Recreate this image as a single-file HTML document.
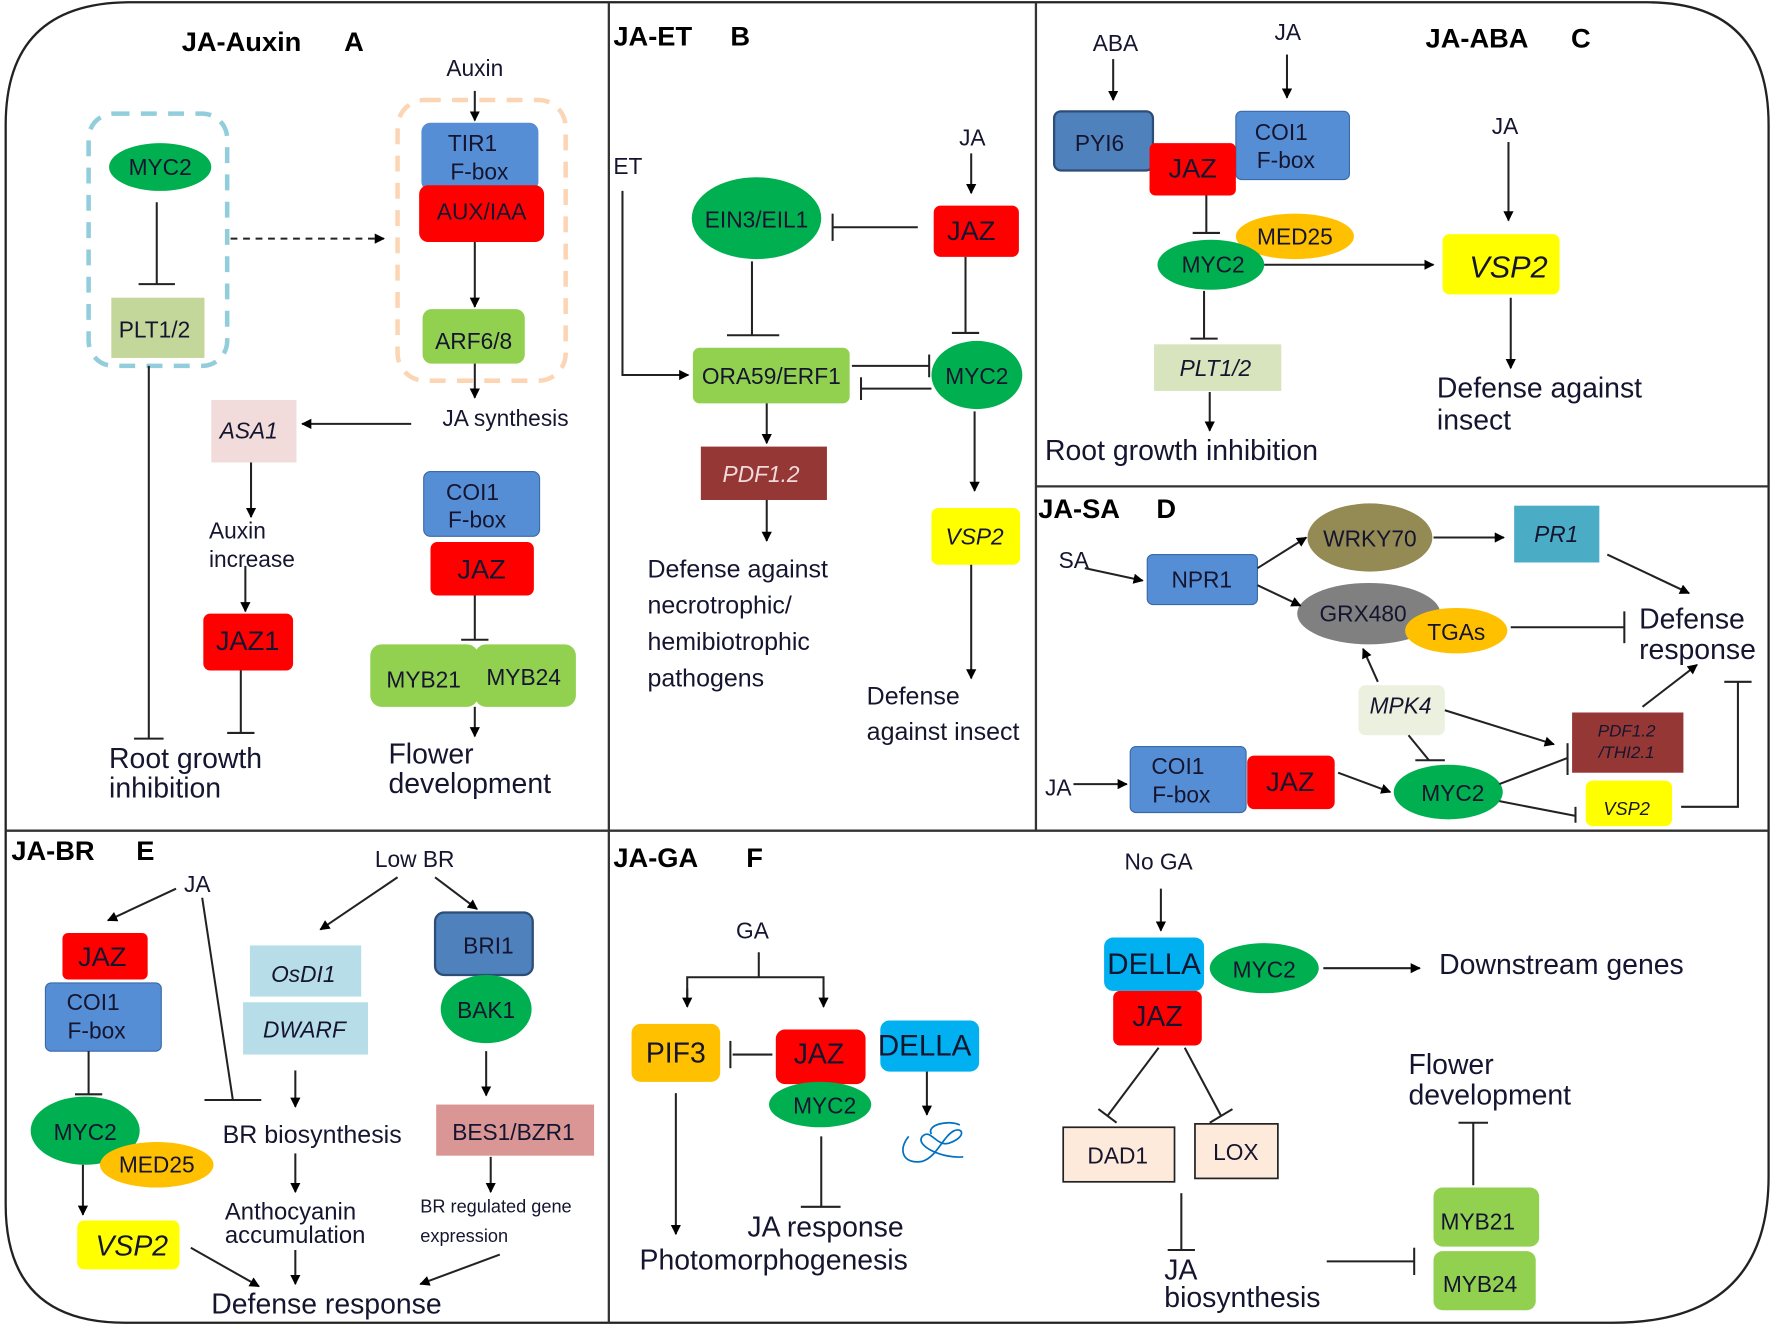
<!DOCTYPE html>
<html><head><meta charset="utf-8"><style>
html,body{margin:0;padding:0;background:#fff;}
svg{display:block;}
text{font-family:"Liberation Sans",sans-serif;fill:#15152f;}
.t{font-size:20px;}
.n{font-size:20px;text-anchor:middle;}
.b{font-weight:bold;font-size:24px;fill:#000;}
.l{font-size:25px;}
.i{font-style:italic;}
</style></head><body>
<svg width="1772" height="1325" viewBox="0 0 1560 1166" preserveAspectRatio="none" xmlns="http://www.w3.org/2000/svg">
<defs>
<marker id="a" viewBox="0 0 10 10" refX="9" refY="5" markerWidth="5" markerHeight="5" orient="auto"><path d="M0,0L10,5L0,10z" fill="#000"/></marker>
</defs>
<g stroke="#333" stroke-width="2" fill="none">
<path d="M115,2 H1450 Q1557,2 1557,110 V1035 Q1557,1164 1420,1164 H110 Q5,1164 5,1060 V110 Q5,2 115,2 Z" stroke="#222"/>
<line x1="536" y1="2" x2="536" y2="1164"/>
<line x1="912" y1="2" x2="912" y2="730"/>
<line x1="5" y1="731" x2="1557" y2="731"/>
<line x1="912" y1="428" x2="1557" y2="428"/>
</g>

<!-- Panel A -->
<text x="160" y="45" class="b">JA-Auxin</text><text x="303" y="45" class="b">A</text>
<rect x="78" y="100" width="122" height="222" rx="22" fill="none" stroke="#92cddc" stroke-width="4" stroke-dasharray="14,10"/>
<rect x="350" y="88" width="148" height="247" rx="24" fill="none" stroke="#fcd5b5" stroke-width="4" stroke-dasharray="14,10"/>
<ellipse cx="141" cy="147" rx="45" ry="21" fill="#00b050"/><text x="141" y="154" class="n">MYC2</text>
<rect x="98" y="262" width="82" height="53" fill="#c4d79b"/><text x="136" y="297" class="n">PLT1/2</text>
<text x="418" y="67" class="n">Auxin</text>
<rect x="371" y="108" width="103" height="60" rx="8" fill="#558ed5"/><text x="416" y="133" class="n">TIR1</text><text x="422" y="158" class="n">F-box</text>
<rect x="369" y="163" width="110" height="50" rx="8" fill="#ff0000"/><text x="424" y="193" class="n">AUX/IAA</text>
<rect x="372" y="272" width="90" height="48" rx="8" fill="#92d050"/><text x="417" y="307" class="n">ARF6/8</text>
<text x="445" y="375" class="n">JA synthesis</text>
<rect x="186" y="352" width="75" height="55" fill="#f2dcdb"/><text x="219" y="386" class="n i">ASA1</text>
<text x="184" y="474" class="t">Auxin</text><text x="184" y="499" class="t">increase</text>
<rect x="179" y="540" width="79" height="50" rx="6" fill="#ff0000"/><text x="218" y="572" class="n" style="font-size:24px">JAZ1</text>
<rect x="373" y="415" width="102" height="57" rx="6" fill="#558ed5" stroke="#3a6aa8" stroke-width="1"/><text x="416" y="440" class="n">COI1</text><text x="420" y="464" class="n">F-box</text>
<rect x="379" y="477" width="91" height="47" rx="6" fill="#ff0000"/><text x="424" y="509" class="n" style="font-size:24px">JAZ</text>
<rect x="326" y="567" width="95" height="55" rx="10" fill="#92d050"/><text x="373" y="605" class="n">MYB21</text>
<rect x="418" y="567" width="89" height="55" rx="10" fill="#92d050"/><text x="461" y="603" class="n">MYB24</text>
<text x="96" y="676" class="l">Root growth</text><text x="96" y="702" class="l">inhibition</text>
<text x="342" y="672" class="l">Flower</text><text x="342" y="698" class="l">development</text>
<g stroke="#222" stroke-width="1.8" fill="none">
<line x1="138" y1="178" x2="138" y2="250"/><line x1="122" y1="250" x2="154" y2="250"/>
<line x1="418" y1="80" x2="418" y2="106" marker-end="url(#a)"/>
<line x1="418" y1="213" x2="418" y2="270" marker-end="url(#a)"/>
<line x1="418" y1="320" x2="418" y2="350" marker-end="url(#a)"/>
<line x1="203" y1="210" x2="338" y2="210" stroke-dasharray="6,5" marker-end="url(#a)"/>
<line x1="362" y1="373" x2="266" y2="373" marker-end="url(#a)"/>
<line x1="221" y1="407" x2="221" y2="455" marker-end="url(#a)"/>
<line x1="216" y1="498" x2="216" y2="538" marker-end="url(#a)"/>
<line x1="212" y1="590" x2="212" y2="645"/><line x1="200" y1="645" x2="224" y2="645"/>
<line x1="131" y1="322" x2="131" y2="650"/><line x1="118" y1="650" x2="144" y2="650"/>
<line x1="418" y1="524" x2="418" y2="563"/><line x1="406" y1="563" x2="430" y2="563"/>
<line x1="418" y1="622" x2="418" y2="648" marker-end="url(#a)"/>
</g>

<!-- Panel B -->
<text x="540" y="40" class="b">JA-ET</text><text x="643" y="40" class="b">B</text>
<text x="540" y="153" class="t">ET</text>
<text x="856" y="128" class="n">JA</text>
<rect x="822" y="181" width="75" height="45" rx="6" fill="#ff0000"/><text x="855" y="211" class="n" style="font-size:24px">JAZ</text>
<ellipse cx="666" cy="192" rx="57" ry="36" fill="#00b050"/><text x="666" y="200" class="n">EIN3/EIL1</text>
<rect x="610" y="306" width="138" height="49" rx="6" fill="#92d050"/><text x="679" y="338" class="n">ORA59/ERF1</text>
<ellipse cx="860" cy="330" rx="40" ry="30" fill="#00b050"/><text x="860" y="338" class="n">MYC2</text>
<rect x="617" y="393" width="111" height="47" fill="#953735"/><text x="670" y="424" class="n i" style="fill:#f0dada">PDF1.2</text>
<rect x="820" y="447" width="78" height="50" rx="6" fill="#ffff00"/><text x="858" y="479" class="n i">VSP2</text>
<text x="570" y="508" class="t" style="font-size:22px">Defense against</text>
<text x="570" y="540" class="t" style="font-size:22px">necrotrophic/</text>
<text x="570" y="572" class="t" style="font-size:22px">hemibiotrophic</text>
<text x="570" y="604" class="t" style="font-size:22px">pathogens</text>
<text x="763" y="620" class="t" style="font-size:22px">Defense</text>
<text x="763" y="651" class="t" style="font-size:22px">against insect</text>
<g stroke="#222" stroke-width="1.8" fill="none">
<polyline points="548,168 548,330 606,330" marker-end="url(#a)"/>
<line x1="855" y1="135" x2="855" y2="170" marker-end="url(#a)"/>
<line x1="808" y1="200" x2="733" y2="200"/><line x1="733" y1="188" x2="733" y2="212"/>
<line x1="662" y1="230" x2="662" y2="295"/><line x1="640" y1="295" x2="686" y2="295"/>
<line x1="850" y1="226" x2="850" y2="293"/><line x1="838" y1="293" x2="862" y2="293"/>
<line x1="750" y1="322" x2="818" y2="322"/><line x1="818" y1="312" x2="818" y2="332"/>
<line x1="820" y1="342" x2="758" y2="342"/><line x1="758" y1="332" x2="758" y2="352"/>
<line x1="675" y1="355" x2="675" y2="390" marker-end="url(#a)"/>
<line x1="675" y1="440" x2="675" y2="476" marker-end="url(#a)"/>
<line x1="858" y1="362" x2="858" y2="432" marker-end="url(#a)"/>
<line x1="855" y1="497" x2="855" y2="597" marker-end="url(#a)"/>
</g>

<!-- Panel C -->
<text x="1255" y="42" class="b">JA-ABA</text><text x="1383" y="42" class="b">C</text>
<text x="962" y="45" class="t">ABA</text>
<text x="1122" y="35" class="t">JA</text>
<rect x="928" y="98" width="87" height="52" rx="6" fill="#4f81bd" stroke="#2c4d75" stroke-width="2"/><text x="968" y="133" class="n">PYI6</text>
<rect x="1088" y="98" width="100" height="60" rx="5" fill="#558ed5" stroke="#3a6aa8" stroke-width="1"/><text x="1128" y="123" class="n">COI1</text><text x="1132" y="148" class="n">F-box</text>
<rect x="1012" y="126" width="76" height="46" rx="5" fill="#ff0000"/><text x="1050" y="156" class="n" style="font-size:24px">JAZ</text>
<ellipse cx="1140" cy="208" rx="52" ry="20" fill="#ffc000"/><text x="1140" y="215" class="n">MED25</text>
<ellipse cx="1066" cy="233" rx="47" ry="22" fill="#00b050"/><text x="1068" y="240" class="n">MYC2</text>
<rect x="1270" y="206" width="103" height="53" rx="6" fill="#ffff00"/><text x="1328" y="244" class="n i" style="font-size:27px">VSP2</text>
<text x="1325" y="118" class="n">JA</text>
<text x="1265" y="350" class="l">Defense against</text><text x="1265" y="378" class="l">insect</text>
<rect x="1016" y="303" width="112" height="41" fill="#d7e4bd"/><text x="1070" y="331" class="n i">PLT1/2</text>
<text x="920" y="405" class="l">Root  growth inhibition</text>
<g stroke="#222" stroke-width="1.8" fill="none">
<line x1="980" y1="52" x2="980" y2="88" marker-end="url(#a)"/>
<line x1="1133" y1="48" x2="1133" y2="86" marker-end="url(#a)"/>
<line x1="1062" y1="172" x2="1062" y2="205"/><line x1="1050" y1="205" x2="1074" y2="205"/>
<line x1="1113" y1="233" x2="1262" y2="233" marker-end="url(#a)"/>
<line x1="1328" y1="125" x2="1328" y2="194" marker-end="url(#a)"/>
<line x1="1330" y1="262" x2="1330" y2="324" marker-end="url(#a)"/>
<line x1="1060" y1="256" x2="1060" y2="298"/><line x1="1048" y1="298" x2="1072" y2="298"/>
<line x1="1065" y1="345" x2="1065" y2="379" marker-end="url(#a)"/>
</g>

<!-- Panel D -->
<text x="914" y="456" class="b">JA-SA</text><text x="1018" y="456" class="b">D</text>
<text x="932" y="500" class="t">SA</text>
<rect x="1010" y="488" width="97" height="44" rx="5" fill="#558ed5" stroke="#3a6aa8" stroke-width="1"/><text x="1058" y="517" class="n">NPR1</text>
<ellipse cx="1206" cy="473" rx="55" ry="30" fill="#948a54"/><text x="1206" y="481" class="n">WRKY70</text>
<rect x="1333" y="445" width="75" height="50" fill="#4bacc6"/><text x="1370" y="477" class="n i">PR1</text>
<ellipse cx="1205" cy="540" rx="63" ry="27" fill="#808080"/><text x="1200" y="547" class="n">GRX480</text>
<ellipse cx="1282" cy="555" rx="45" ry="20" fill="#ffc000"/><text x="1282" y="563" class="n">TGAs</text>
<text x="1443" y="553" class="l">Defense</text><text x="1443" y="580" class="l">response</text>
<rect x="1196" y="603" width="76" height="44" rx="6" fill="#ebf1de"/><text x="1233" y="628" class="n i">MPK4</text>
<rect x="1384" y="627" width="98" height="53" fill="#953735"/><text x="1432" y="648" class="n i" style="font-size:15px">PDF1.2</text><text x="1432" y="667" class="n i" style="font-size:15px">/THI2.1</text>
<text x="920" y="700" class="t">JA</text>
<rect x="995" y="657" width="102" height="58" rx="5" fill="#558ed5" stroke="#3a6aa8" stroke-width="1"/><text x="1037" y="681" class="n">COI1</text><text x="1040" y="706" class="n">F-box</text>
<rect x="1098" y="665" width="77" height="47" rx="6" fill="#ff0000"/><text x="1136" y="696" class="n" style="font-size:24px">JAZ</text>
<ellipse cx="1275" cy="697" rx="48" ry="24" fill="#00b050"/><text x="1279" y="705" class="n">MYC2</text>
<rect x="1396" y="687" width="76" height="40" rx="6" fill="#ffff00"/><text x="1432" y="717" class="n i" style="font-size:16px">VSP2</text>
<g stroke="#222" stroke-width="1.8" fill="none">
<line x1="955" y1="500" x2="1006" y2="511" marker-end="url(#a)"/>
<line x1="1107" y1="500" x2="1150" y2="473" marker-end="url(#a)"/>
<line x1="1107" y1="515" x2="1145" y2="533" marker-end="url(#a)"/>
<line x1="1262" y1="473" x2="1324" y2="473" marker-end="url(#a)"/>
<line x1="1415" y1="488" x2="1487" y2="522" marker-end="url(#a)"/>
<line x1="1330" y1="552" x2="1430" y2="552"/><line x1="1430" y1="538" x2="1430" y2="566"/>
<line x1="1213" y1="600" x2="1200" y2="571" marker-end="url(#a)"/>
<line x1="1272" y1="625" x2="1368" y2="655" marker-end="url(#a)"/>
<line x1="1240" y1="647" x2="1258" y2="669"/><line x1="1246" y1="669" x2="1272" y2="669"/>
<line x1="1446" y1="622" x2="1494" y2="585" marker-end="url(#a)"/>
<line x1="945" y1="690" x2="992" y2="690" marker-end="url(#a)"/>
<line x1="1178" y1="680" x2="1224" y2="697" marker-end="url(#a)"/>
<line x1="1320" y1="690" x2="1380" y2="667"/><line x1="1380" y1="654" x2="1380" y2="682"/>
<line x1="1320" y1="705" x2="1387" y2="718"/><line x1="1387" y1="710" x2="1387" y2="724"/>
<polyline points="1480,710 1530,710 1530,600"/><line x1="1518" y1="600" x2="1542" y2="600"/>
</g>

<!-- Panel E -->
<text x="10" y="757" class="b">JA-BR</text><text x="120" y="757" class="b">E</text>
<text x="162" y="785" class="t">JA</text>
<rect x="55" y="821" width="75" height="41" rx="5" fill="#ff0000"/><text x="90" y="850" class="n" style="font-size:24px">JAZ</text>
<rect x="40" y="865" width="102" height="60" rx="5" fill="#558ed5" stroke="#3a6aa8" stroke-width="1"/><text x="82" y="889" class="n">COI1</text><text x="85" y="914" class="n">F-box</text>
<ellipse cx="75" cy="995" rx="48" ry="30" fill="#00b050"/><text x="75" y="1003" class="n">MYC2</text>
<ellipse cx="138" cy="1025" rx="50" ry="20" fill="#ffc000"/><text x="138" y="1032" class="n">MED25</text>
<rect x="68" y="1074" width="90" height="43" rx="6" fill="#ffff00"/><text x="116" y="1105" class="n i" style="font-size:25px">VSP2</text>
<text x="330" y="763" class="t">Low BR</text>
<rect x="220" y="832" width="98" height="45" fill="#b7dee8"/><text x="267" y="864" class="n i">OsDI1</text>
<rect x="214" y="882" width="110" height="46" fill="#b7dee8"/><text x="268" y="913" class="n i">DWARF</text>
<text x="196" y="1006" class="t" style="font-size:22px">BR biosynthesis</text>
<text x="198" y="1073" class="t" style="font-size:21px">Anthocyanin</text><text x="198" y="1094" class="t" style="font-size:21px">accumulation</text>
<text x="186" y="1156" class="l">Defense response</text>
<rect x="383" y="803" width="86" height="55" rx="8" fill="#4f81bd" stroke="#2c4d75" stroke-width="2"/><text x="430" y="839" class="n">BRI1</text>
<ellipse cx="428" cy="888" rx="40" ry="30" fill="#00b050"/><text x="428" y="896" class="n">BAK1</text>
<rect x="384" y="972" width="139" height="45" fill="#da9694"/><text x="452" y="1003" class="n">BES1/BZR1</text>
<text x="370" y="1067" class="t" style="font-size:16px">BR regulated gene</text>
<text x="370" y="1093" class="t" style="font-size:16px">expression</text>
<g stroke="#222" stroke-width="1.8" fill="none">
<line x1="155" y1="782" x2="95" y2="810" marker-end="url(#a)"/>
<line x1="178" y1="790" x2="205" y2="968"/><line x1="180" y1="968" x2="230" y2="968"/>
<line x1="78" y1="925" x2="78" y2="963"/><line x1="66" y1="963" x2="90" y2="963"/>
<line x1="73" y1="1025" x2="73" y2="1069" marker-end="url(#a)"/>
<line x1="168" y1="1098" x2="228" y2="1132" marker-end="url(#a)"/>
<line x1="350" y1="772" x2="282" y2="818" marker-end="url(#a)"/>
<line x1="383" y1="772" x2="420" y2="800" marker-end="url(#a)"/>
<line x1="260" y1="942" x2="260" y2="974" marker-end="url(#a)"/>
<line x1="260" y1="1015" x2="260" y2="1049" marker-end="url(#a)"/>
<line x1="260" y1="1100" x2="260" y2="1130" marker-end="url(#a)"/>
<line x1="428" y1="925" x2="428" y2="964" marker-end="url(#a)"/>
<line x1="432" y1="1018" x2="432" y2="1049" marker-end="url(#a)"/>
<line x1="440" y1="1104" x2="370" y2="1130" marker-end="url(#a)"/>
</g>

<!-- Panel F -->
<text x="540" y="763" class="b">JA-GA</text><text x="657" y="763" class="b">F</text>
<text x="648" y="826" class="t">GA</text>
<rect x="556" y="901" width="78" height="51" rx="8" fill="#ffc000"/><text x="595" y="935" class="n" style="font-size:25px">PIF3</text>
<rect x="683" y="906" width="79" height="48" rx="8" fill="#ff0000"/><text x="721" y="936" class="n" style="font-size:25px">JAZ</text>
<ellipse cx="722" cy="972" rx="45" ry="20" fill="#00b050"/><text x="726" y="980" class="n">MYC2</text>
<rect x="775" y="898" width="87" height="45" rx="8" fill="#00b0f0"/><text x="814" y="929" class="n" style="font-size:26px">DELLA</text>
<path d="M800,1000 C790,1012 795,1025 812,1022 C825,1018 830,1000 840,995 C848,992 850,1000 838,1005 C825,1012 820,992 812,1000 C805,1008 830,1020 848,1018 M820,998 C815,990 835,985 845,990" stroke="#0070c0" stroke-width="1.5" fill="none"/>
<text x="658" y="1088" class="l">JA response</text>
<text x="563" y="1117" class="l">Photomorphogenesis</text>
<text x="990" y="765" class="t">No GA</text>
<rect x="972" y="825" width="88" height="47" rx="8" fill="#00b0f0"/><text x="1016" y="857" class="n" style="font-size:26px">DELLA</text>
<rect x="980" y="872" width="78" height="48" rx="6" fill="#ff0000"/><text x="1019" y="903" class="n" style="font-size:25px">JAZ</text>
<ellipse cx="1113" cy="852" rx="48" ry="22" fill="#00b050"/><text x="1113" y="860" class="n">MYC2</text>
<text x="1267" y="857" class="l">Downstream genes</text>
<rect x="936" y="992" width="98" height="48" fill="#fdeada" stroke="#222" stroke-width="1.5"/><text x="984" y="1024" class="n">DAD1</text>
<rect x="1052" y="989" width="73" height="48" fill="#fdeada" stroke="#222" stroke-width="1.5"/><text x="1088" y="1021" class="n">LOX</text>
<text x="1025" y="1126" class="l">JA</text><text x="1025" y="1150" class="l">biosynthesis</text>
<rect x="1262" y="1045" width="93" height="52" rx="8" fill="#92d050"/><text x="1301" y="1082" class="n">MYB21</text>
<rect x="1262" y="1101" width="90" height="52" rx="8" fill="#92d050"/><text x="1303" y="1137" class="n">MYB24</text>
<text x="1240" y="945" class="l">Flower</text><text x="1240" y="972" class="l">development</text>
<g stroke="#222" stroke-width="1.8" fill="none">
<line x1="668" y1="838" x2="668" y2="860"/>
<polyline points="605,884 605,860 725,860 725,884" />
<line x1="605" y1="870" x2="605" y2="886" marker-end="url(#a)"/>
<line x1="725" y1="870" x2="725" y2="886" marker-end="url(#a)"/>
<line x1="595" y1="962" x2="595" y2="1086" marker-end="url(#a)"/>
<line x1="680" y1="928" x2="645" y2="928"/><line x1="643" y1="916" x2="643" y2="940"/>
<line x1="816" y1="943" x2="816" y2="981" marker-end="url(#a)"/>
<line x1="723" y1="1000" x2="723" y2="1062"/><line x1="705" y1="1062" x2="740" y2="1062"/>
<line x1="1022" y1="782" x2="1022" y2="819" marker-end="url(#a)"/>
<line x1="1165" y1="852" x2="1250" y2="852" marker-end="url(#a)"/>
<line x1="1020" y1="922" x2="975" y2="982"/><line x1="967" y1="976" x2="983" y2="988"/>
<line x1="1043" y1="922" x2="1075" y2="982"/><line x1="1065" y1="988" x2="1085" y2="976"/>
<line x1="1040" y1="1050" x2="1040" y2="1100"/><line x1="1028" y1="1100" x2="1052" y2="1100"/>
<line x1="1168" y1="1110" x2="1245" y2="1110"/><line x1="1245" y1="1098" x2="1245" y2="1122"/>
<line x1="1297" y1="1043" x2="1297" y2="988"/><line x1="1284" y1="988" x2="1310" y2="988"/>
</g>
</svg>
</body></html>
